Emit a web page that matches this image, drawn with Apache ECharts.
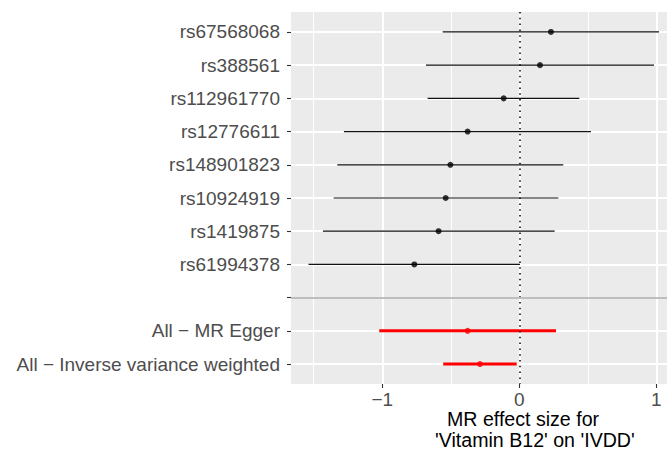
<!DOCTYPE html>
<html>
<head>
<meta charset="utf-8">
<script src="https://cdn.jsdelivr.net/npm/echarts@6/dist/echarts.min.js"></script>
<style>
  html, body { margin: 0; padding: 0; background: #fff; }
  #chart { width: 667px; height: 449px; }
</style>
</head>
<body>
<div id="chart"></div>
<script>
// ---- data ----
const snpLabels = ['rs67568068', 'rs388561', 'rs112961770', 'rs12776611', 'rs148901823', 'rs10924919', 'rs1419875', 'rs61994378'];
const snpBeta   = [0.231, 0.151, -0.114, -0.377, -0.503, -0.537, -0.589, -0.766];
const snpLower  = [-0.559, -0.681, -0.669, -1.280, -1.328, -1.355, -1.433, -1.538];
const snpUpper  = [1.020, 0.983, 0.438, 0.523, 0.321, 0.285, 0.258, 0.005];

const methodLabels = ['All \u2212 MR Egger', 'All \u2212 Inverse variance weighted'];
const methodBeta   = [-0.377, -0.287];
const methodLower  = [-1.022, -0.555];
const methodUpper  = [0.268, -0.019];

const xTickValues  = [-1, 0, 1];
const xMinorValues = [-1.5, -0.5, 0.5];
const xTitleLine1 = 'MR effect size for';
const xTitleLine2 = "'Vitamin B12' on 'IVDD'";

// rows: SNPs, one blank separator row, then methods
const rowLabels = snpLabels.concat([''], methodLabels);
const rowIndex = rowLabels.map((_, i) => i);
const sepRow = snpLabels.length;
const methodStart = snpLabels.length + 1;

const snpBars = snpLabels.map((_, i) => [i, snpLower[i], snpUpper[i]]);
const snpPts = snpLabels.map((_, i) => [snpBeta[i], i]);
const mBars = methodLabels.map((_, i) => [methodStart + i, methodLower[i], methodUpper[i]]);
const mPts = methodLabels.map((_, i) => [methodBeta[i], methodStart + i]);

const FONT = '"Liberation Sans", Arial, sans-serif';
const xMin = -1.666, xMax = 1.078;

function barRenderer(color, width) {
  return function (params, api) {
    const a = api.coord([api.value(1), api.value(0)]);
    const b = api.coord([api.value(2), api.value(0)]);
    return {
      type: 'line',
      shape: { x1: a[0], y1: a[1], x2: b[0], y2: b[1] },
      style: { stroke: color, lineWidth: width }
    };
  };
}

const chart = echarts.init(document.getElementById('chart'), null, { renderer: 'svg' });
chart.setOption({
  animation: false,
  backgroundColor: '#ffffff',
  grid: {
    left: 291, right: 0, top: 12, bottom: 65,
    show: true, backgroundColor: '#EBEBEB', borderWidth: 0
  },
  xAxis: [{
    type: 'value', min: xMin, max: xMax, position: 'bottom',
    axisLine: { show: false, onZero: false },
    axisTick: { show: true, customValues: xTickValues, length: 4, lineStyle: { color: '#333333', width: 1.1 } },
    axisLabel: {
      customValues: xTickValues, margin: 6,
      color: '#4D4D4D', fontSize: 19, fontFamily: FONT,
      formatter: v => (v < 0 ? '\u2212' + Math.abs(v) : String(v))
    },
    splitLine: { show: true, lineStyle: { color: '#ffffff', width: 2 } }
  }, {
    type: 'value', min: xMin, max: xMax, position: 'top',
    axisLine: { show: false, onZero: false },
    axisTick: { show: false, customValues: xMinorValues },
    axisLabel: { show: false, customValues: xMinorValues },
    splitLine: { show: true, lineStyle: { color: '#ffffff', width: 1 } }
  }],
  yAxis: {
    type: 'value', inverse: true, min: -0.6, max: 10.6,
    axisLine: { show: false, onZero: false },
    axisTick: { show: true, customValues: rowIndex, length: 4, lineStyle: { color: '#333333', width: 1.1 } },
    axisLabel: {
      customValues: rowIndex, margin: 11,
      color: '#4D4D4D', fontSize: 19, fontFamily: FONT,
      formatter: v => rowLabels[Math.round(v)]
    },
    splitLine: { show: true, lineStyle: { color: '#ffffff', width: 2 } }
  },
  graphic: [
    { type: 'text', x: 447, y: 419, style: { text: xTitleLine1, fill: '#000', font: '19.6px ' + FONT, lineHeight: 18, align: 'left', verticalAlign: 'middle' } },
    { type: 'text', x: 435, y: 439.5, style: { text: xTitleLine2, fill: '#000', font: '19.6px ' + FONT, lineHeight: 18, align: 'left', verticalAlign: 'middle' } }
  ],
  series: [
    {
      type: 'scatter', data: [], z: 1, silent: true,
      markLine: {
        silent: true, symbol: 'none', label: { show: false },
        data: [
          { xAxis: 0, lineStyle: { color: '#000', width: 1.5, type: [1.5, 4.3] } },
          { yAxis: sepRow, lineStyle: { color: '#BEBEBE', width: 2, type: 'solid' } }
        ]
      }
    },
    {
      type: 'custom', z: 3, silent: true,
      data: snpBars, encode: { x: [1, 2], y: 0 },
      renderItem: barRenderer('#111111', 1.2)
    },
    {
      type: 'custom', z: 3, silent: true,
      data: mBars, encode: { x: [1, 2], y: 0 },
      renderItem: barRenderer('#FF0000', 3)
    },
    {
      type: 'scatter', z: 4, silent: true, symbol: 'circle', symbolSize: 6,
      itemStyle: { color: '#000' }, data: snpPts
    },
    {
      type: 'scatter', z: 4, silent: true, symbol: 'circle', symbolSize: 6,
      itemStyle: { color: '#FF0000' }, data: mPts
    }
  ]
});
</script>
</body>
</html>
